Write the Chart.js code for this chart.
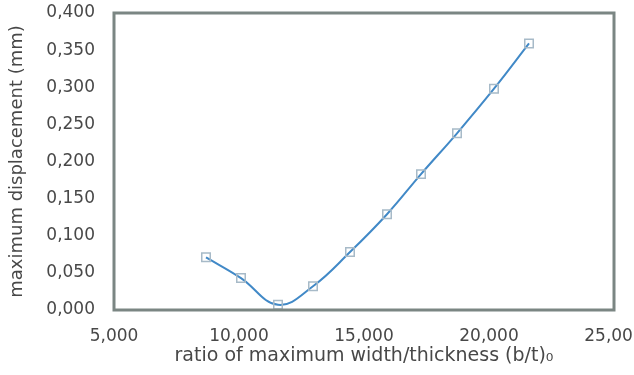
<!DOCTYPE html>
<html>
<head>
<meta charset="utf-8">
<script src="https://cdn.jsdelivr.net/npm/chart.js@4"></script>
<style>
  html, body { margin: 0; padding: 0; background: #fff; overflow: hidden; }
  #wrap { width: 634px; height: 375px; }
</style>
</head>
<body>
<div id="wrap"><canvas id="dispChart"></canvas></div>
<script>
const ratios = [8680, 10080, 11560, 12960, 14440, 15920, 17280, 18720, 20200, 21600];
const displacements = [0.071, 0.043, 0.007, 0.032, 0.078, 0.129, 0.183, 0.238, 0.298, 0.359];
const xTicks = [5000, 10000, 15000, 20000, 25000];
const yTicks = [0, 0.05, 0.1, 0.15, 0.2, 0.25, 0.3, 0.35, 0.4];

const xTitle = 'ratio of maximum width/thickness (b/t)\u2080';
const yTitle = 'maximum displacement (mm)';

// frame around the plot area
const frame = {
    id: 'frame',
    afterDraw(chart) {
        const a = chart.chartArea;
        const c = chart.ctx;
        c.save();
        c.strokeStyle = '#7b8683';
        c.lineWidth = 3;
        c.strokeRect(a.left, a.top, a.right - a.left, a.bottom - a.top);
        c.restore();
    }
};

function noPad(s) {
    s.paddingTop = 0;
    s.paddingBottom = 0;
    s.paddingLeft = 0;
    s.paddingRight = 0;
}

document.addEventListener('DOMContentLoaded', () => {
    const ctx = document.getElementById('dispChart').getContext('2d');
    new Chart(ctx, {
        type: 'line',
        data: {
            datasets: [{
                data: ratios.map((x, i) => ({ x: x, y: displacements[i] })),
                borderColor: '#4189c7',
                borderWidth: 2,
                tension: 0.4,
                pointStyle: 'rect',
                pointRadius: 6,
                pointBorderWidth: 1.5,
                pointBorderColor: '#a7bac8',
                pointBackgroundColor: 'rgba(0,0,0,0)'
            }]
        },
        options: {
            responsive: true,
            maintainAspectRatio: false,
            animation: false,
            layout: { padding: { left: 7, top: 13, right: 20, bottom: 0 } },
            plugins: { legend: { display: false }, tooltip: { enabled: false } },
            scales: {
                x: {
                    type: 'linear',
                    min: 5000,
                    max: 25000,
                    afterBuildTicks: s => { s.ticks = xTicks.map(v => ({ value: v })); },
                    afterFit: s => { noPad(s); s.height = 65; },
                    grid: { display: false, drawTicks: false },
                    border: { display: false },
                    ticks: {
                        padding: 16,
                        color: '#484848',
                        font: { family: 'DejaVu Sans', size: 17 },
                        maxRotation: 0,
                        callback: v => v.toLocaleString('en-US')
                    },
                    title: {
                        display: true,
                        text: xTitle,
                        color: '#484848',
                        font: { family: 'DejaVu Sans', size: 19 },
                        padding: { top: 0, bottom: 8 }
                    }
                },
                y: {
                    min: 0,
                    max: 0.4,
                    afterBuildTicks: s => { s.ticks = yTicks.map(v => ({ value: v })); },
                    afterFit: s => { noPad(s); s.width = 107; },
                    grid: { display: false, drawTicks: false },
                    border: { display: false },
                    ticks: {
                        padding: 19,
                        color: '#484848',
                        font: { family: 'DejaVu Sans', size: 17 },
                        callback: v => v.toFixed(3).replace('.', ',')
                    },
                    title: {
                        display: true,
                        text: yTitle,
                        color: '#484848',
                        font: { family: 'DejaVu Sans', size: 18 },
                        padding: { top: 0, bottom: 0 }
                    }
                }
            }
        },
        plugins: [frame]
    });
});
</script>
</body>
</html>
